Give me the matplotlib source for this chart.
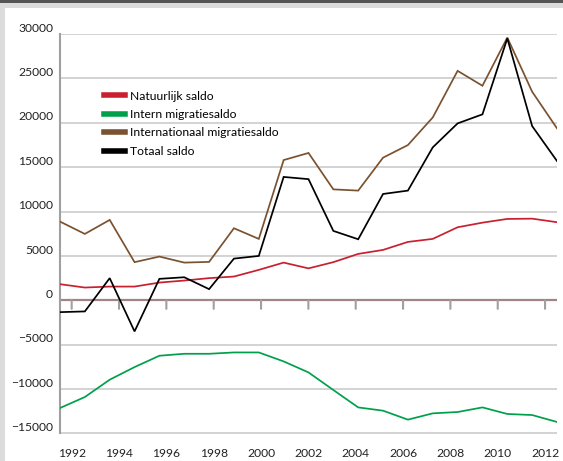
import numpy as np
import matplotlib
matplotlib.use("Agg")
import matplotlib.pyplot as plt
from matplotlib.patches import Rectangle
from matplotlib.transforms import ScaledTranslation, blended_transform_factory

# ---- data ----
years = list(range(1992, 2013))  # 21 data points
natuurlijk = [1820, 1440, 1550, 1550, 2000, 2230, 2500, 2680, 3430, 4250, 3600,
              4300, 5230, 5680, 6580, 6920, 8230, 8750, 9170, 9200, 8800]
intern = [-12130, -10890, -8940, -7520, -6240, -6020, -6020, -5870, -5870, -6880, -8120,
          -10100, -12060, -12430, -13440, -12730, -12580, -12060, -12800, -12920, -13700]
internationaal = [8870, 7480, 9060, 4300, 4930, 4250, 4330, 8120, 6920, 15800, 16600,
                  12500, 12360, 16070, 17490, 20600, 25850, 24170, 29600, 23500, 19370]
totaal = [-1330, -1250, 2500, -3500, 2420, 2600, 1260, 4700, 5000, 13900, 13650,
          7820, 6880, 11980, 12360, 17230, 19930, 20950, 29500, 19630, 15690]
tick_labels = ["1992", "1994", "1996", "1998", "2000", "2002", "2004", "2006", "2008", "2010", "2012"]
series_names = ["Natuurlijk saldo", "Intern migratiesaldo", "Internationaal migratiesaldo", "Totaal saldo"]
colors = ["#C8202F", "#00A04A", "#7B5230", "#000000"]

W, H = 563, 461
fig = plt.figure(figsize=(W / 100, H / 100), dpi=100)
fig.patch.set_facecolor("#DCDCDC")
fig.patches.append(Rectangle((5 / W, 0), 1, 1 - 8 / H, transform=fig.transFigure,
                             facecolor="white", edgecolor="none", zorder=-10))
fig.patches.append(Rectangle((0, 1 - 3 / H), 1, 3 / H, transform=fig.transFigure,
                             facecolor="#555555", edgecolor="none", zorder=-10))

plt.rcParams['font.family'] = ['Lato', 'DejaVu Sans']
fs = 8.7

left, right = 60 / W, 557 / W
top, bottom = 1 - 34 / H, 1 - 433.5 / H
ax = fig.add_axes([left, bottom, right - left, top - bottom])
ax.set_zorder(5)
ax.set_facecolor("none")

x = np.arange(len(years))
for vals, c, name in zip([natuurlijk, intern, internationaal, totaal], colors, series_names):
    ax.plot(x, vals, color=c, lw=1.25, label=name, zorder=3, solid_joinstyle="miter")

ax.set_xlim(0, len(years) - 1)
ax.set_ylim(-15000, 30000)
ax.set_yticks(np.arange(-15000, 30001, 5000))
ax.yaxis.grid(True, color="#D0D0D0", lw=1.3)
ax.set_axisbelow(True)
ax.tick_params(axis="y", length=0, labelsize=fs, colors="#222222", pad=5)
for lab in ax.get_yticklabels():
    lab.set_transform(lab.get_transform() + ScaledTranslation(0, 0.068, fig.dpi_scale_trans))

for s in ["top", "right", "bottom"]:
    ax.spines[s].set_visible(False)
ax.spines["left"].set_color("#A0A0A0")
ax.spines["left"].set_linewidth(1.5)
ax.set_xticks([])

# zero line with category tick marks
ax.axhline(0, color="#A08488", lw=1.6, zorder=2)
tick_pos = np.linspace(0.47, 19.52, len(tick_labels))
for tp in tick_pos:
    ax.annotate("", xy=(tp, 0), xytext=(0, -8.5), textcoords="offset pixels",
                arrowprops=dict(arrowstyle="-", color="#A0A0A0", lw=1.5,
                                shrinkA=0, shrinkB=0), zorder=2)

trans = blended_transform_factory(ax.transData, fig.transFigure)
for tp, tl in zip(tick_pos, tick_labels):
    ax.text(tp, 1 - 453 / H, tl, transform=trans, ha="center", va="center",
            fontsize=fs, color="#222222", clip_on=False)

leg = ax.legend(loc="upper left", bbox_to_anchor=(104 / W, 1 - 90.5 / H),
                bbox_transform=fig.transFigure, frameon=False, fontsize=fs,
                handlelength=1.75, handletextpad=0.4, labelspacing=0.62,
                borderpad=0, borderaxespad=0)
for h in leg.legend_handles:
    h.set_linewidth(4)

fig.savefig("out.png", dpi=100, facecolor=fig.get_facecolor())
